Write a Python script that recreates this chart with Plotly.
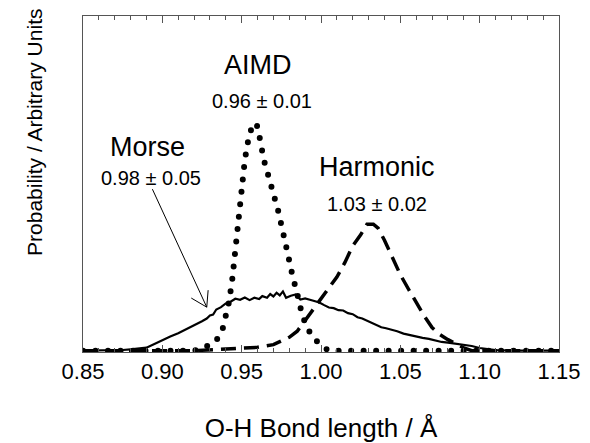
import plotly.graph_objects as go

# ---------------- data ----------------
aimd_x = [0.850, 0.920, 0.927, 0.934, 0.938, 0.940, 0.942, 0.944, 0.946, 0.948,
          0.950, 0.952, 0.954, 0.957, 0.960, 0.962, 0.964, 0.967, 0.970, 0.973,
          0.976, 0.979, 0.982, 0.985, 0.988, 0.991, 0.995, 1.000, 1.005, 1.150]
aimd_y = [0, 0, 1.0, 3.0, 6.5, 10.5, 14.5, 21.0, 31.0, 39.0,
          48.0, 57.0, 62.5, 68.0, 67.0, 61.0, 57.0, 52.0, 47.2, 41.8,
          35.5, 28.0, 22.5, 17.0, 11.0, 7.0, 4.0, 1.5, 0, 0]

harm_x = [0.850, 0.920, 0.940, 0.960, 0.970, 0.975, 0.980, 0.985, 0.990, 0.995,
          1.000, 1.005, 1.010, 1.015, 1.020, 1.025, 1.029, 1.033, 1.036, 1.040,
          1.045, 1.050, 1.055, 1.060, 1.065, 1.070, 1.075, 1.080, 1.085, 1.090,
          1.095, 1.150]
harm_y = [0, 0, 0.5, 1.0, 1.8, 2.8, 4.0, 5.8, 9.0, 12.0,
          15.3, 18.5, 22.0, 26.3, 31.3, 34.6, 37.8, 37.8, 36.6, 33.0,
          27.7, 22.7, 18.5, 14.2, 10.4, 6.9, 4.8, 3.3, 2.0, 0.8,
          0, 0]

morse_x = [0.850, 0.870, 0.875, 0.880, 0.885, 0.890, 0.895, 0.900, 0.905, 0.910,
           0.915, 0.920, 0.925, 0.928, 0.930, 0.932, 0.934, 0.937, 0.940, 0.943,
           0.946, 0.949, 0.952, 0.955, 0.958, 0.961, 0.963, 0.966, 0.968, 0.970,
           0.972, 0.974, 0.976, 0.978, 0.981, 0.984, 0.987, 0.990, 0.993, 0.996,
           0.999, 1.002, 1.005, 1.008, 1.011, 1.014, 1.017, 1.020, 1.023, 1.026,
           1.029, 1.032, 1.035, 1.038, 1.041, 1.044, 1.048, 1.052, 1.056, 1.060,
           1.064, 1.068, 1.072, 1.076, 1.080, 1.085, 1.090, 1.095, 1.100, 1.105,
           1.110, 1.120, 1.150]
morse_y = [0, 0, 0.2, 0.4, 0.6, 0.9, 2.0, 3.2, 4.2, 5.2,
           6.3, 7.6, 8.8, 9.6, 10.5, 10.8, 12.3, 13.0, 14.1, 14.6,
           15.5, 15.2, 15.9, 15.1, 15.8, 15.4, 16.3, 15.8, 16.9, 16.2,
           17.3, 16.5, 17.7, 15.8, 16.4, 16.8, 15.3, 15.6, 15.2, 14.7,
           14.4, 13.6, 12.9, 12.7, 12.1, 12.0, 11.2, 10.9, 10.0, 9.6,
           8.9, 8.4, 7.7, 7.0, 6.7, 6.4, 5.8, 5.1, 4.6, 4.1,
           3.8, 3.5, 3.0, 2.6, 2.4, 2.1, 1.8, 1.4, 0.8, 0.4,
           0.2, 0, 0]

x_tick_vals = [0.85, 0.90, 0.95, 1.00, 1.05, 1.10, 1.15]
x_tick_text = ["0.85", "0.90", "0.95", "1.00", "1.05", "1.10", "1.15"]

labels = ["AIMD", "0.96 ± 0.01", "Morse", "0.98 ± 0.05", "Harmonic", "1.03 ± 0.02"]
label_x = [0.960, 0.9625, 0.8907, 0.8929, 1.0356, 1.0356]
label_y = [85.4, 74.6, 60.9, 51.6, 54.9, 43.9]
label_size = [27, 20, 27, 20, 27, 20]

y_title = "Probability / Arbitrary Units"
x_title = "O-H Bond length / Å"

FONT = "Arial, 'Liberation Sans', sans-serif"
AX = "#555555"

fig = go.Figure()
fig.add_trace(go.Scatter(x=aimd_x, y=aimd_y, mode="lines", name="AIMD",
                         line=dict(color="black", width=6, dash="0px,12.5px")))
fig.add_trace(go.Scatter(x=harm_x, y=harm_y, mode="lines", name="Harmonic",
                         line=dict(color="black", width=3.5, dash="15px,8px")))
fig.add_trace(go.Scatter(x=morse_x, y=morse_y, mode="lines", name="Morse",
                         line=dict(color="black", width=2.2)))

for t, x, y, s in zip(labels, label_x, label_y, label_size):
    fig.add_annotation(x=x, y=y, text=t, showarrow=False,
                       font=dict(family=FONT, size=s, color="black"))

# y-axis title placed as rotated text (sits high on the left in the original)
fig.add_annotation(xref="paper", yref="paper", x=-0.1008, y=0.652, text=y_title,
                   textangle=-90, showarrow=False, xanchor="center", yanchor="middle",
                   font=dict(family=FONT, size=21, color="black"))

# Arrow from Morse label to its curve (open head drawn as two thin strokes)
tip_x, tip_y = 0.928, 13.0
fig.add_annotation(x=tip_x, y=tip_y, ax=0.8933, ay=48.7, axref="x", ayref="y",
                   text="", showarrow=True, arrowhead=0, arrowwidth=1, arrowcolor="black")
fig.add_annotation(x=tip_x, y=tip_y, ax=-17, ay=-10, text="", showarrow=True,
                   arrowhead=0, arrowwidth=1, arrowcolor="black")
fig.add_annotation(x=tip_x, y=tip_y, ax=1.5, ay=-18.5, text="", showarrow=True,
                   arrowhead=0, arrowwidth=1, arrowcolor="black")

fig.update_layout(
    width=590, height=443,
    margin=dict(l=83, r=31, t=16, b=91, autoexpand=False),
    paper_bgcolor="white", plot_bgcolor="white",
    showlegend=False,
    font=dict(family=FONT, color="black"),
    xaxis=dict(range=[0.85, 1.15], tickvals=x_tick_vals, ticktext=x_tick_text,
               ticks="inside", ticklen=7, tickcolor=AX, tickwidth=1,
               minor=dict(dtick=0.01, tick0=0.85, ticks="inside", ticklen=4, tickcolor=AX),
               showline=True, linecolor=AX, linewidth=1, mirror="ticks",
               showgrid=False, zeroline=False, automargin=False,
               tickfont=dict(size=22, family=FONT, color="black"),
               title=dict(text=x_title, standoff=36,
                          font=dict(size=26, family=FONT, color="black"))),
    yaxis=dict(range=[-0.4, 100], showticklabels=False, ticks="",
               showline=True, linecolor=AX, linewidth=1, mirror=True,
               showgrid=False, zeroline=False, automargin=False),
)

post = """
document.body.style.margin = '0';
document.body.style.padding = '0';
var gd = document.getElementById('{plot_id}');
function rc(){
  var t = gd.querySelectorAll('.scatterlayer .trace');
  if (t.length) { t[0].querySelectorAll('path.js-line').forEach(function(p){ p.style.strokeLinecap = 'round'; }); }
}
rc();
gd.on('plotly_afterplot', rc);
"""
fig.write_html("out.html", post_script=post, config={"displayModeBar": False})
